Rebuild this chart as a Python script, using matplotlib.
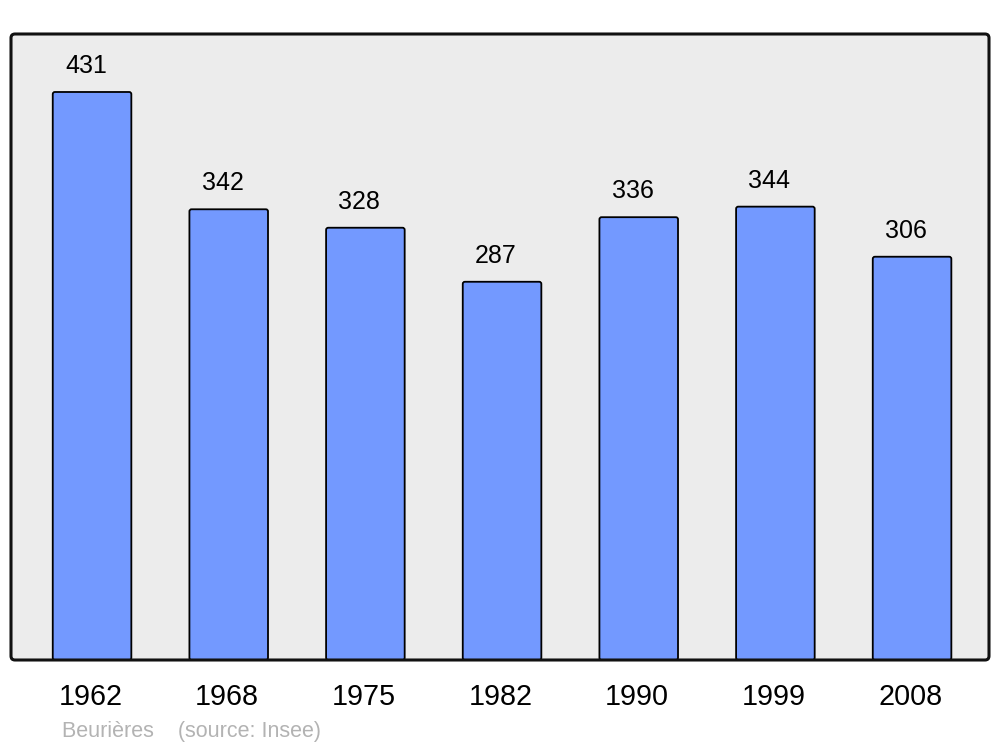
import matplotlib
matplotlib.use("Agg")
import matplotlib.pyplot as plt
from matplotlib.patches import FancyBboxPatch
import matplotlib.transforms as mtransforms

plt.rcParams['font.family'] = ['Liberation Sans', 'DejaVu Sans']

years = ["1962", "1968", "1975", "1982", "1990", "1999", "2008"]
population = [431, 342, 328, 287, 336, 344, 306]
commune = "Beurières"
source = "(source: Insee)"

W, H = 1000, 747
fig = plt.figure(figsize=(W/100, H/100), dpi=100)
L, R, T, B = 11, 989, 34, 660
ax = fig.add_axes([L/W, 1-B/H, (R-L)/W, (B-T)/H])
ax.set_facecolor('none')
ax.set_xlim(-0.593, 6.563)
ax.set_ylim(0, 475)
for s in ax.spines.values():
    s.set_visible(False)
ax.set_xticks([])
ax.set_yticks([])

# frame (rounded) in figure coordinates
fr = 4.0 / W
bg = FancyBboxPatch((L/W, 1-B/H), (R-L)/W, (B-T)/H,
                    boxstyle=f"round,pad=0,rounding_size={fr}",
                    mutation_aspect=W/H, transform=fig.transFigure,
                    facecolor='#ececec', edgecolor='none', zorder=-1)
fig.patches.append(bg)
edge = FancyBboxPatch((L/W, 1-B/H), (R-L)/W, (B-T)/H,
                      boxstyle=f"round,pad=0,rounding_size={fr}",
                      mutation_aspect=W/H, transform=fig.transFigure,
                      facecolor='none', edgecolor='#111111', linewidth=2.2, zorder=5)
fig.patches.append(edge)

xscale = (R-L) / (6.563 + 0.593)
yscale = (B-T) / 475.0
bw = 0.575
for i, v in enumerate(population):
    p = FancyBboxPatch((i - bw/2, 0), bw, v,
                       boxstyle="round,pad=0,rounding_size=0.016",
                       mutation_aspect=xscale/yscale,
                       facecolor='#7399ff', edgecolor='black', linewidth=1.3, zorder=2)
    ax.add_patch(p)
    ax.text(i - 0.045, v + 19/yscale, str(v), ha='center', va='baseline',
            fontsize=18, color='black')

trans = mtransforms.blended_transform_factory(ax.transData, fig.transFigure)
for i, y in enumerate(years):
    ax.text(i - 0.012, 1-705/H, y, ha='center', va='baseline', fontsize=20.7,
            color='black', transform=trans)

fig.text(62/W, 1-737/H, commune + "    " + source, fontsize=15.5, color='#b3b3b3',
         ha='left', va='baseline')

fig.savefig("out.png", dpi=100)
